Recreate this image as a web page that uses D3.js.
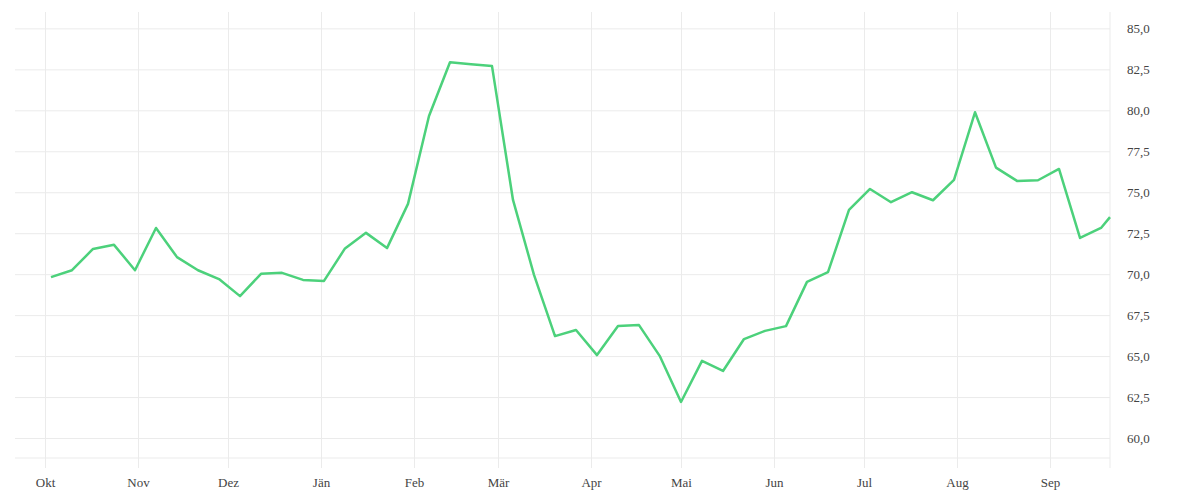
<!DOCTYPE html>
<html>
<head>
<meta charset="utf-8">
<script src="https://cdn.jsdelivr.net/npm/d3@7"></script>
<style>
  body { margin: 0; background: #fff; }
  text { font-family: "Liberation Serif", "DejaVu Serif", serif; }
</style>
</head>
<body>
<div id="chart"></div>
<script>
'use strict';

// weekly values, Okt 2021 - Sep 2022
var dates = [
  '2021-10-03', '2021-10-10', '2021-10-17', '2021-10-24', '2021-10-31',
  '2021-11-07', '2021-11-14', '2021-11-21', '2021-11-28',
  '2021-12-05', '2021-12-12', '2021-12-19', '2021-12-26',
  '2022-01-02', '2022-01-09', '2022-01-16', '2022-01-23', '2022-01-30',
  '2022-02-06', '2022-02-13', '2022-02-20', '2022-02-27',
  '2022-03-06', '2022-03-13', '2022-03-20', '2022-03-27',
  '2022-04-03', '2022-04-10', '2022-04-17', '2022-04-24',
  '2022-05-01', '2022-05-08', '2022-05-15', '2022-05-22', '2022-05-29',
  '2022-06-05', '2022-06-12', '2022-06-19', '2022-06-26',
  '2022-07-03', '2022-07-10', '2022-07-17', '2022-07-24', '2022-07-31',
  '2022-08-07', '2022-08-14', '2022-08-21', '2022-08-28',
  '2022-09-04', '2022-09-11', '2022-09-18', '2022-09-21'
];
var values = [
  69.82, 70.24, 71.54, 71.79, 70.24,
  72.82, 71.04, 70.24, 69.70,
  68.66, 70.02, 70.08, 69.65,
  69.59, 71.57, 72.52, 71.59, 74.29,
  79.65, 82.93, 82.81, 82.70,
  74.53, 69.96, 66.22, 66.59,
  65.06, 66.83, 66.89, 64.98,
  62.20, 64.71, 64.09, 66.04, 66.54,
  66.83, 69.53, 70.12, 73.92,
  75.20, 74.39, 75.00, 74.51, 75.75,
  79.88, 76.50, 75.69, 75.73,
  76.42, 72.21, 72.82, 73.48
];
var monthLabels = ['Jän', 'Feb', 'Mär', 'Apr', 'Mai', 'Jun', 'Jul', 'Aug', 'Sep', 'Okt', 'Nov', 'Dez'];
var yTicks = [60, 62.5, 65, 67.5, 70, 72.5, 75, 77.5, 80, 82.5, 85];
var xDomain = ['2021-09-21', '2022-09-21'];
var yDomain = [58.78, 86];

var width = 1200;
var height = 500;
var plot = {left: 15, right: 1110, top: 12, bottom: 458};
var gridColor = '#ebebeb';
var textColor = '#444';

var parse = d3.timeParse('%Y-%m-%d');
var data = dates.map(function(d, i) {
  return {date: parse(d), val: values[i]};
});

var de = d3.formatLocale({decimal: ',', thousands: '.', grouping: [3], currency: ['', ' €']});
var fmt = de.format('.1f');

var x = d3.scaleTime()
  .domain(xDomain.map(parse))
  .range([plot.left, plot.right]);

var y = d3.scaleLinear()
  .domain(yDomain)
  .range([plot.bottom, plot.top]);

var svg = d3.select('#chart').append('svg')
  .attr('width', width)
  .attr('height', height);

// horizontal grid + right labels
var yAxis = svg.append('g')
  .attr('transform', 'translate(' + plot.right + ',0)')
  .call(d3.axisRight(y)
    .tickValues(yTicks)
    .tickSize(-(plot.right - plot.left))
    .tickPadding(17)
    .tickFormat(fmt));
yAxis.select('.domain').remove();
yAxis.selectAll('line').attr('stroke', gridColor);
yAxis.selectAll('text')
  .attr('fill', textColor)
  .style('font-size', '13px');

// vertical grid + month labels
var xAxis = svg.append('g')
  .attr('transform', 'translate(0,' + (plot.bottom + 10) + ')')
  .call(d3.axisBottom(x)
    .ticks(d3.timeMonth.every(1))
    .tickSize(-(plot.bottom + 10 - plot.top))
    .tickPadding(10)
    .tickFormat(function(d) { return monthLabels[d.getMonth()]; }));
xAxis.select('.domain').remove();
xAxis.selectAll('line').attr('stroke', gridColor);
xAxis.selectAll('text')
  .attr('fill', textColor)
  .style('font-size', '13px');

// bottom edge of plot
svg.append('line')
  .attr('x1', plot.left)
  .attr('x2', plot.right)
  .attr('y1', plot.bottom)
  .attr('y2', plot.bottom)
  .attr('stroke', gridColor);

// right axis line
svg.append('line')
  .attr('x1', plot.right)
  .attr('x2', plot.right)
  .attr('y1', plot.top)
  .attr('y2', plot.bottom + 10)
  .attr('stroke', gridColor);

var line = d3.line()
  .x(function(d) { return x(d.date); })
  .y(function(d) { return y(d.val); });

svg.append('path')
  .datum(data)
  .attr('d', line)
  .attr('fill', 'none')
  .attr('stroke', '#4cd17b')
  .attr('stroke-width', 2.5)
  .attr('stroke-linejoin', 'round');
</script>
</body>
</html>
